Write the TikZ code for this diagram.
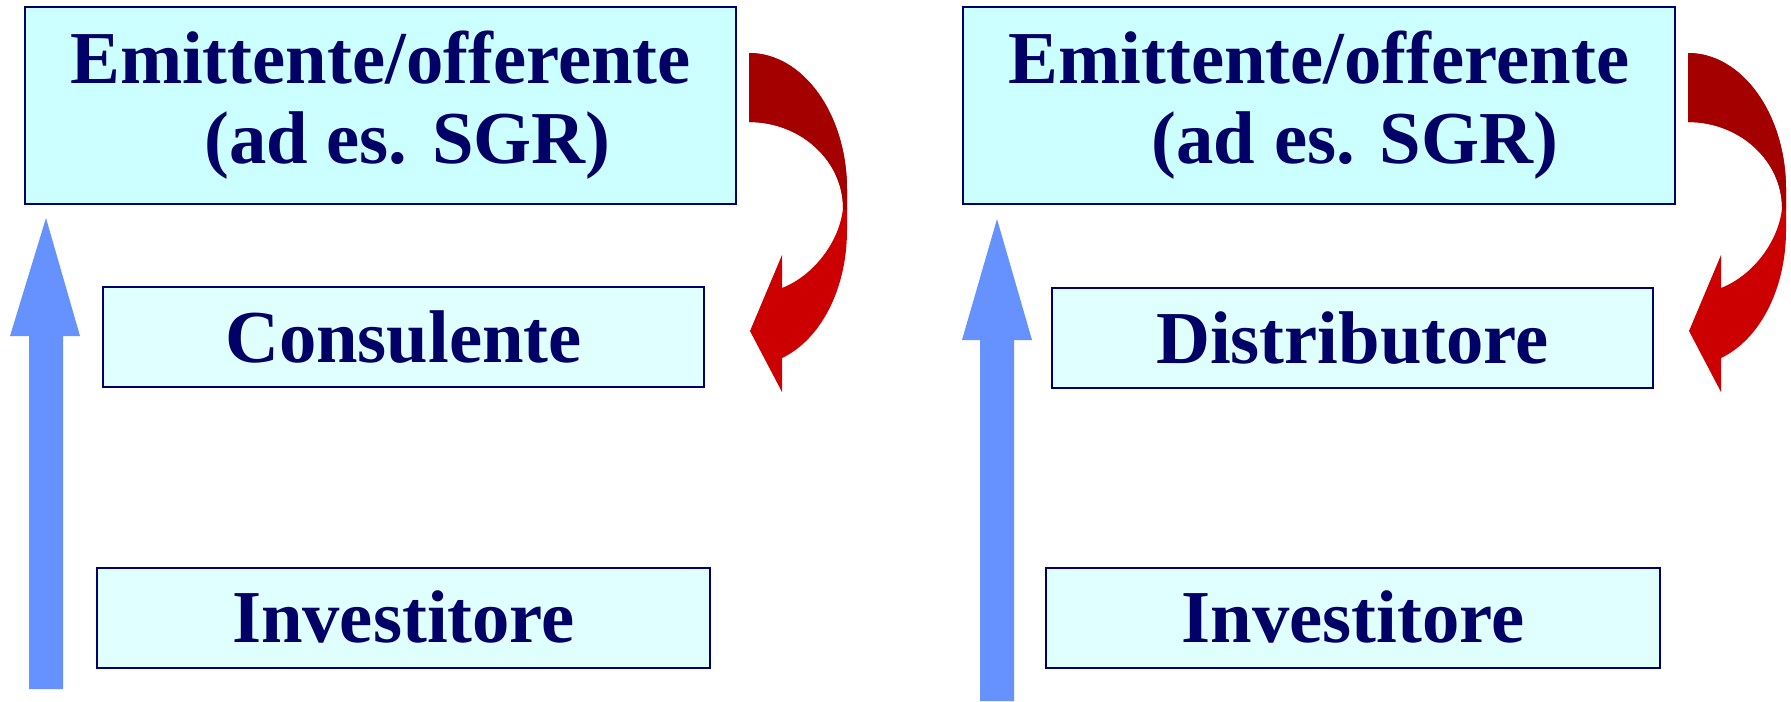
\documentclass[tikz,border=0pt]{standalone}
\usepackage{fontspec}
\setmainfont{Liberation Serif}
\definecolor{navytext}{RGB}{0,0,102}
\definecolor{navyline}{RGB}{0,0,110}
\definecolor{topfill}{RGB}{204,255,255}
\definecolor{lowfill}{RGB}{224,255,255}
\definecolor{bluearrow}{RGB}{102,146,255}
\definecolor{darkred}{RGB}{165,0,0}
\definecolor{brightred}{RGB}{204,0,0}
\tikzset{
  txt/.style={text=navytext, font=\fontsize{42.5}{45.4}\selectfont\bfseries},
  topbox/.style={draw=navyline, line width=0.04cm, fill=topfill, txt, align=center, inner sep=0pt, minimum height=3.94cm},
  lowbox/.style={draw=navyline, line width=0.04cm, fill=lowfill, txt, inner sep=0pt, text height=1.5cm, text depth=0.5cm},
}
\begin{document}
\begin{tikzpicture}[x=0.02cm, y=-0.02cm]
\useasboundingbox (0,0) rectangle (1791,701);
% left panel
\node[topbox, minimum width=14.22cm] (emL) at (380.5,105.5) {Emittente/offerente\\\hspace*{1.08cm}(ad es. SGR)};
\node[lowbox, minimum width=12.02cm] (con) at (403.5,337) {Consulente};
\node[lowbox, minimum width=12.26cm] (invL) at (403.5,617.5) {Investitore};
% right panel
\node[topbox, minimum width=14.24cm] (emR) at (1319,105.5) {Emittente/offerente\\\hspace*{1.44cm}(ad es. SGR)};
\node[lowbox, minimum width=12.02cm] (dis) at (1352.5,338) {Distributore};
\node[lowbox, minimum width=12.28cm] (invR) at (1353,617.5) {Investitore};
% blue arrows
\fill[bluearrow] (29,689) -- (29,336) -- (10,336) -- (46,218) -- (80,336) -- (63,336) -- (63,689) -- cycle;
\fill[bluearrow] (980,701) -- (980,340) -- (962,340) -- (997,219) -- (1032,340) -- (1014,340) -- (1014,701) -- cycle;
% red curved arrows
\foreach \dx/\nm in {0/L, 939/R}{
  \begin{scope}[xshift=\dx*0.02cm]
    \fill[brightred] (749,53) .. controls (803,53) and (847,114) .. (847,190)
      -- (847,230) .. controls (847,290) and (820,340) .. (782,358)
      -- (782,392) -- (750,331) -- (782,255) -- (782,288)
      .. controls (815,275) and (840,240) .. (843,208)
      .. controls (843,161) and (801,122) .. (749,122) -- cycle;
    \begin{scope}
      \clip (740,40) rectangle (860,209);
      \fill[darkred] (749,53) .. controls (803,53) and (847,114) .. (847,190)
        -- (847,230) -- (843,208)
        .. controls (843,161) and (801,122) .. (749,122) -- cycle;
    \end{scope}
  \end{scope}
}
\end{tikzpicture}
\end{document}
